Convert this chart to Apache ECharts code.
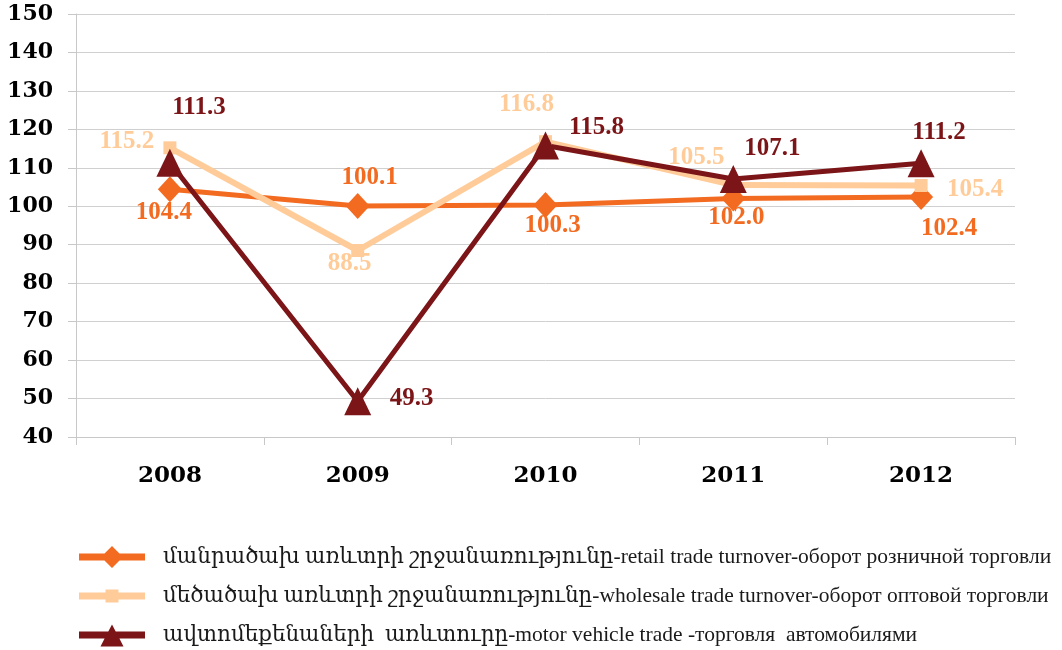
<!DOCTYPE html>
<html>
<head>
<meta charset="utf-8">
<script src="https://cdn.jsdelivr.net/npm/echarts@6/dist/echarts.min.js"></script>
<style>
  html, body { margin: 0; padding: 0; background: #ffffff; }
  #chart { width: 1062px; height: 650px; }
</style>
</head>
<body>
<div id="chart"></div>
<script>
// Trade turnover indices, previous year = 100
const years = ['2008', '2009', '2010', '2011', '2012'];
const retail = [104.4, 100.1, 100.3, 102.0, 102.4];
const wholesale = [115.2, 88.5, 116.8, 105.5, 105.4];
const motor = [111.3, 49.3, 115.8, 107.1, 111.2];

const seriesNames = [
  'մանրածախ առևտրի շրջանառությունը-retail trade turnover-оборот розничной торговли',
  'մեծածախ առևտրի շրջանառությունը-wholesale trade turnover-оборот оптовой торговли',
  'ավտոմեքենաների  առևտուրը-motor vehicle trade -торговля  автомобилями'
];

const colors = { retail: '#F26B21', wholesale: '#FFCC99', motor: '#7B1518' };

// where each value label sits relative to its marker (px)
const retailLabelOffsets = [[-6, 23], [12, -28], [7, 20], [3, 19], [28, 32]];
const wholesaleLabelOffsets = [[-43, -6], [-8, 13], [-19, -37], [-37, -28], [54, 4]];
const motorLabelOffsets = [[29, -55], [54, -3], [51, -18], [39, -30], [18, -31]];

// legend keys: a line with the marker in its middle (79x24 box, blank tail keeps text gap)
const legendIcons = [
  'path://M0,0M79,24M0,8.5L25.5,8.5L33,1L40.5,8.5L66,8.5L66,15.5L40.5,15.5L33,23L25.5,15.5L0,15.5Z',
  'path://M0,0M79,24M0,8.5L26.5,8.5L26.5,5.5L39.5,5.5L39.5,8.5L66,8.5L66,15.5L39.5,15.5L39.5,18.5L26.5,18.5L26.5,15.5L0,15.5Z',
  'path://M0,0M79,24M0,8.5L29.3,8.5L33,1.5L36.7,8.5L66,8.5L66,15.5L40.4,15.5L44.5,23.5L21.5,23.5L25.6,15.5L0,15.5Z'
];

const labelFont = {
  fontFamily: '"Liberation Serif", "DejaVu Serif", serif',
  fontWeight: 'bold',
  fontSize: 25
};

function withLabels(values, offsets) {
  return values.map((v, i) => ({ value: v, label: { offset: offsets[i] } }));
}

function makeSeries(name, values, offsets, color, symbol, symbolSize, width) {
  return {
    name: name,
    type: 'line',
    data: withLabels(values, offsets),
    symbol: symbol,
    symbolSize: symbolSize,
    showAllSymbol: true,
    lineStyle: { color: color, width: width },
    itemStyle: { color: color, borderWidth: 0 },
    label: Object.assign({
      show: true,
      position: 'inside',
      color: color,
      formatter: p => Number(p.value).toFixed(1)
    }, labelFont),
    emphasis: { disabled: true }
  };
}

const chart = echarts.init(document.getElementById('chart'));
chart.setOption({
  animation: false,
  backgroundColor: '#ffffff',
  grid: { left: 76, right: 47, top: 14, bottom: 213, containLabel: false },
  legend: {
    orient: 'vertical',
    left: 79,
    top: 545,
    padding: 0,
    itemWidth: 79,
    itemHeight: 24,
    itemGap: 15,
    selectedMode: false,
    itemStyle: { borderWidth: 0 },
    textStyle: {
      fontFamily: '"Liberation Serif", "DejaVu Serif", serif',
      fontSize: 21.5,
      color: '#1a1a1a'
    },
    data: seriesNames.map((n, i) => ({ name: n, icon: legendIcons[i] }))
  },
  xAxis: {
    type: 'category',
    data: years,
    boundaryGap: true,
    axisLine: { show: true, lineStyle: { color: '#C8C8C8', width: 1 } },
    axisTick: { show: true, length: 8, alignWithLabel: false, lineStyle: { color: '#C8C8C8' } },
    axisLabel: {
      margin: 28,
      color: '#000000',
      fontFamily: '"DejaVu Serif", serif',
      fontWeight: 'bold',
      fontSize: 23
    },
    splitLine: { show: false }
  },
  yAxis: {
    type: 'value',
    min: 40,
    max: 150,
    interval: 10,
    axisLine: { show: true, lineStyle: { color: '#C8C8C8', width: 1 } },
    axisTick: { show: true, length: 8, lineStyle: { color: '#C8C8C8' } },
    axisLabel: {
      margin: 23,
      color: '#000000',
      fontFamily: '"DejaVu Serif", serif',
      fontWeight: 'bold',
      fontSize: 22
    },
    splitLine: { show: true, lineStyle: { color: '#D0D0D0', width: 1 } }
  },
  series: [
    makeSeries(seriesNames[0], retail, retailLabelOffsets, colors.retail, 'diamond', [24, 26], 5),
    makeSeries(seriesNames[1], wholesale, wholesaleLabelOffsets, colors.wholesale, 'rect', [13, 13], 6),
    makeSeries(seriesNames[2], motor, motorLabelOffsets, colors.motor, 'triangle', [27, 28], 5)
  ]
});
</script>
</body>
</html>
